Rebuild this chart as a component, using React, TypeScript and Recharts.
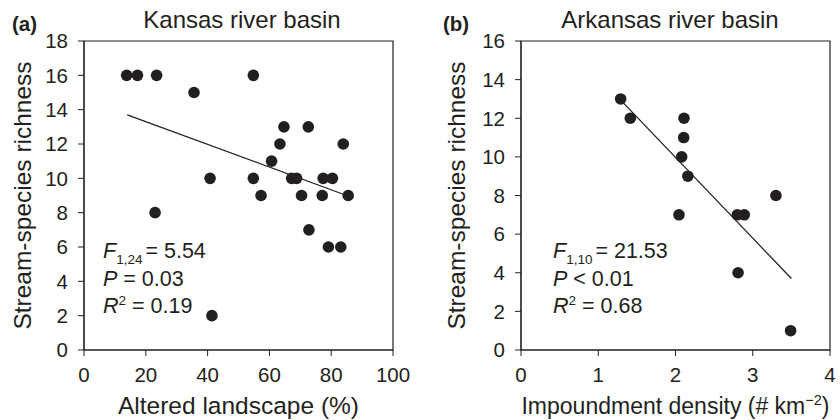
import { ScatterChart, Scatter, XAxis, YAxis, ReferenceLine, ReferenceArea, Label } from 'recharts';

const FONT = '"Liberation Sans", Arial, Helvetica, sans-serif';
const INK = '#231f20';

// (a) Kansas river basin
const kansasAltered = [13.8, 17.3, 23.5, 35.6, 40.8, 54.8, 54.8, 57.3, 60.7, 63.4, 64.7, 67.2, 68.8, 70.4, 72.6, 77.1, 77.4, 80.4, 83.9, 85.5, 23.0, 72.8, 79.1, 83.1, 41.4];
const kansasRichness = [16, 16, 16, 15, 10, 16, 10, 9, 11, 12, 13, 10, 10, 9, 13, 9, 10, 10, 12, 9, 8, 7, 6, 6, 2];
const kansasFit = [{ x: 14, y: 13.7 }, { x: 85, y: 9.0 }];
const kansasXTicks = [0, 20, 40, 60, 80, 100];
const kansasYTicks = [0, 2, 4, 6, 8, 10, 12, 14, 16, 18];

// (b) Arkansas river basin
const arkDensity = [1.29, 1.415, 2.11, 2.106, 2.08, 2.16, 3.3, 2.045, 2.8, 2.89, 2.81, 3.49];
const arkRichness = [13, 12, 12, 11, 10, 9, 8, 7, 7, 7, 4, 1];
const arkFit = [{ x: 1.3, y: 12.9 }, { x: 3.5, y: 3.7 }];
const arkXTicks = [0, 1, 2, 3, 4];
const arkYTicks = [0, 2, 4, 6, 8, 10, 12, 14, 16];

const dot = (props: any) => <circle cx={props.cx} cy={props.cy} r={5.8} fill={INK} />;

interface PanelProps {
  xs: number[];
  ys: number[];
  fit: { x: number; y: number }[];
  xTicks: number[];
  yTicks: number[];
  left: number;
  marginLeft: number;
  marginRight: number;
  yLabelOffset: number;
  xLabel: React.ReactNode;
  xLabelSize: number;
}

function Panel({ xs, ys, fit, xTicks, yTicks, left, marginLeft, marginRight, yLabelOffset, xLabel, xLabelSize }: PanelProps) {
  const points = xs.map((x, i) => ({ x, y: ys[i] }));
  const xMax = xTicks[xTicks.length - 1];
  const yMax = yTicks[yTicks.length - 1];
  const tick = { fill: INK, fontSize: 20.5, fontFamily: FONT };

  return (
    <div style={{ position: 'absolute', left, top: 0 }}>
      <ScatterChart width={420} height={420} margin={{ top: 41, right: marginRight, bottom: 0, left: marginLeft }}>
        <XAxis
          type="number"
          dataKey="x"
          domain={[0, xMax]}
          ticks={xTicks}
          interval={0}
          height={70}
          tickSize={6}
          tickMargin={11}
          stroke={INK}
          tick={tick}
        >
          <Label
            content={({ viewBox }: any) => (
              <text
                x={viewBox.x + viewBox.width / 2}
                y={viewBox.y + 64}
                textAnchor="middle"
                fontSize={xLabelSize}
                fontFamily={FONT}
                fill={INK}
              >
                {xLabel}
              </text>
            )}
          />
        </XAxis>
        <YAxis
          type="number"
          dataKey="y"
          domain={[0, yMax]}
          ticks={yTicks}
          interval={0}
          width={60}
          tickSize={6}
          tickMargin={10}
          stroke={INK}
          tick={tick}
        >
          <Label
            content={({ viewBox }: any) => {
              const cx = viewBox.x + viewBox.width - yLabelOffset;
              const cy = viewBox.y + viewBox.height / 2;
              return (
                <text
                  x={cx}
                  y={cy}
                  transform={`rotate(-90 ${cx} ${cy})`}
                  textAnchor="middle"
                  dominantBaseline="central"
                  fontSize={24.5}
                  fontFamily={FONT}
                  fill={INK}
                >
                  Stream-species richness
                </text>
              );
            }}
          />
        </YAxis>
        <ReferenceArea x1={0} x2={xMax} y1={0} y2={yMax} fill="none" stroke={INK} strokeWidth={1.2} />
        <ReferenceLine segment={fit} stroke={INK} strokeWidth={1.3} />
        <Scatter data={points} shape={dot} isAnimationActive={false} />
      </ScatterChart>
    </div>
  );
}

function Stats({ x, sub, f, p }: { x: number; sub: string; f: string; p: string }) {
  return (
    <g fontFamily={FONT} fontSize={21.5} fill={INK}>
      <text x={x} y={258}>
        <tspan fontStyle="italic">F</tspan>
        <tspan fontSize={13.5} dy={6}>{sub}</tspan>
        <tspan dy={-6} dx={3}>= {f}</tspan>
      </text>
      <text x={x} y={286}>
        <tspan fontStyle="italic">P</tspan> {p}
      </text>
    </g>
  );
}

export default function App() {
  return (
    <div style={{ position: 'absolute', left: 0, top: 0, width: 840, height: 420, background: '#fff' }}>
      <Panel
        xs={kansasAltered}
        ys={kansasRichness}
        fit={kansasFit}
        xTicks={kansasXTicks}
        yTicks={kansasYTicks}
        left={0}
        marginLeft={24}
        marginRight={27}
        yLabelOffset={62}
        xLabel="Altered landscape (%)"
        xLabelSize={24.5}
      />
      <Panel
        xs={arkDensity}
        ys={arkRichness}
        fit={arkFit}
        xTicks={arkXTicks}
        yTicks={arkYTicks}
        left={420}
        marginLeft={41}
        marginRight={10}
        yLabelOffset={65}
        xLabelSize={23}
        xLabel={
          <>
            Impoundment density (# km<tspan fontSize={14.5} dy={-9}>−2</tspan>
            <tspan dy={9}>)</tspan>
          </>
        }
      />
      <svg width={840} height={420} style={{ position: 'absolute', left: 0, top: 0, pointerEvents: 'none' }}>
        <g fontFamily={FONT} fill={INK}>
          <text x={12} y={31} fontSize={20.5} fontWeight="bold">(a)</text>
          <text x={443} y={31} fontSize={20.5} fontWeight="bold">(b)</text>
          <text x={242} y={28} fontSize={24} textAnchor="middle">Kansas river basin</text>
          <text x={670} y={28} fontSize={24} textAnchor="middle">Arkansas river basin</text>
        </g>
        <Stats x={103} sub="1,24" f="5.54" p="= 0.03" />
        <Stats x={553} sub="1,10" f="21.53" p="< 0.01" />
        <g fontFamily={FONT} fontSize={21.5} fill={INK}>
          <text x={103} y={313}>
            <tspan fontStyle="italic">R</tspan>
            <tspan fontSize={13.5} dy={-8}>2</tspan>
            <tspan dy={8}> = 0.19</tspan>
          </text>
          <text x={553} y={313}>
            <tspan fontStyle="italic">R</tspan>
            <tspan fontSize={13.5} dy={-8}>2</tspan>
            <tspan dy={8}> = 0.68</tspan>
          </text>
        </g>
      </svg>
    </div>
  );
}
